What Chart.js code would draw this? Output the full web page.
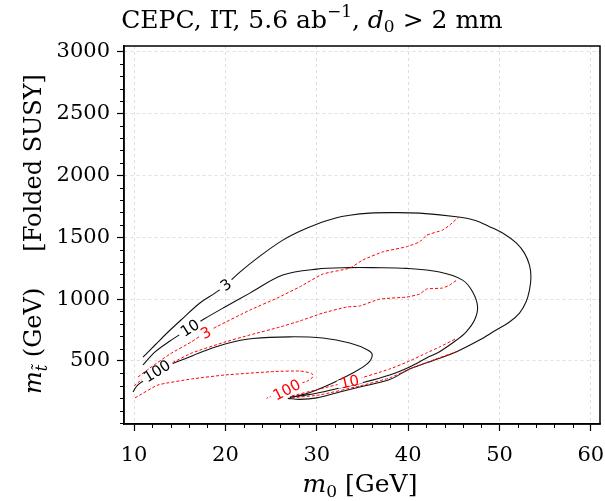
<!DOCTYPE html>
<html>
<head>
<meta charset="utf-8">
<script src="https://cdn.jsdelivr.net/npm/chart.js@4"></script>
<style>
  html, body { margin: 0; padding: 0; background: #fff; }
  #wrap { width: 605px; height: 501px; }
</style>
</head>
<body>
<div id="wrap"><canvas id="contour-chart"></canvas></div>
<script>
'use strict';

// *************** DATA (m0 [GeV] vs stop mass [GeV])

// black solid contours
let black3M = [10.98, 12.30, 13.61, 15.14, 17.21, 18.85, 20.05, 21.58, 23.77, 26.28, 28.14, 29.99, 31.97, 33.61, 35.79, 37.98, 41.26, 45.30, 47.27, 48.91, 50.55, 51.86, 52.73, 53.28, 53.44, 53.28, 52.90, 52.19, 51.09, 49.45, 47.81, 45.30, 42.90, 40.16, 37.98, 34.70, 32.51, 30.00, 28.14, 26.83];
let black3Mass = [532, 629, 726, 831, 968, 1048, 1113, 1218, 1347, 1476, 1548, 1605, 1653, 1677, 1694, 1698, 1694, 1665, 1637, 1585, 1524, 1452, 1371, 1274, 1177, 1073, 976, 887, 815, 742, 669, 575, 508, 435, 351, 290, 250, 202, 190, 198];

let black10M = [10.98, 12.30, 13.93, 16.12, 17.76, 19.95, 22.68, 26.28, 30.00, 33.61, 36.12, 39.84, 43.44, 45.96, 47.05, 47.60, 47.27, 46.36, 45.30, 43.44, 42.02, 40.16, 37.98, 34.70, 32.51, 30.33, 28.91, 27.05];
let black10Mass = [468, 573, 661, 766, 843, 936, 1048, 1194, 1242, 1254, 1254, 1248, 1218, 1153, 1059, 938, 831, 736, 669, 575, 524, 452, 387, 319, 282, 246, 226, 206];

let black100M = [9.89, 10.22, 10.55, 11.20, 12.51, 13.93, 15.79, 17.54, 20.16, 23.01, 27.05, 30.66, 33.61, 35.57, 36.07, 35.57, 33.93, 31.75, 29.56, 28.14, 27.05];
let black100Mass = [250, 290, 315, 347, 403, 468, 524, 577, 641, 681, 695, 685, 645, 589, 548, 480, 403, 323, 254, 222, 206];

// red dashed contours
let red3UpperM = [10.44, 11.75, 13.93, 16.31, 17.76, 19.04, 22.68, 25.60, 28.14, 30.66, 33.61, 35.03, 37.21, 39.84, 41.26, 42.02, 43.77, 44.54, 45.52];
let red3UpperMass = [371, 444, 556, 656, 726, 777, 911, 1006, 1099, 1202, 1250, 1315, 1381, 1423, 1462, 1516, 1557, 1597, 1661];

let red3LowerM = [27.27, 30.33, 34.70, 37.98, 40.16, 42.90, 45.30];
let red3LowerMass = [202, 226, 298, 363, 435, 512, 575];

let red10UpperM = [10.00, 10.66, 12.51, 14.15, 16.34, 19.95, 22.68, 25.96, 28.14, 30.66, 33.28, 34.70, 36.89, 39.84, 41.26, 42.02, 43.77, 44.54, 45.30];
let red10UpperMass = [298, 339, 419, 484, 565, 653, 710, 774, 823, 887, 936, 944, 1000, 1016, 1040, 1081, 1089, 1113, 1153];

let red10LowerM = [27.27, 30.33, 33.61, 37.98, 40.16, 42.02, 43.44, 45.30];
let red10LowerMass = [218, 274, 335, 435, 500, 565, 613, 683];

let red100M = [10.11, 12.62, 16.34, 19.95, 25.41, 28.14, 29.42, 29.60, 28.87, 28.14, 26.72, 24.50];
let red100Mass = [202, 306, 355, 387, 415, 419, 401, 373, 333, 320, 266, 199];

// inline contour labels
let labelTexts = ['3', '10', '100', '3', '100', '10'];
let labelM = [20.05, 16.12, 12.51, 17.87, 26.72, 33.61];
let labelMass = [1113, 766, 419, 726, 266, 331];
let labelColors = ['#000', '#000', '#000', '#ff0000', '#ff0000', '#ff0000'];

// axes
let xTicks = [10, 20, 30, 40, 50, 60];
let yTicks = [500, 1000, 1500, 2000, 2500, 3000];

// *************** HELPERS
function toPoints(xs, ys) {
  let pts = [];
  for (let i = 0; i < xs.length; i++) {
    pts.push({ x: xs[i], y: ys[i] });
  }
  return pts;
}

function lineSet(xs, ys, color, dashed) {
  return {
    data: toPoints(xs, ys),
    showLine: true,
    borderColor: color,
    borderWidth: dashed ? 1 : 1.1,
    borderDash: dashed ? [3, 2] : [],
    pointRadius: 0,
    tension: dashed ? 0.15 : 0.35,
    fill: false
  };
}

function drawRich(ctx, parts, x, y) {
  let total = 0;
  parts.forEach(p => { ctx.font = p[1]; total += ctx.measureText(p[0]).width; });
  let cx = x - total / 2;
  parts.forEach(p => {
    ctx.font = p[1];
    ctx.fillText(p[0], cx, y + (p[2] || 0));
    cx += ctx.measureText(p[0]).width;
  });
}

// angle of the contour near a label, from the nearest segment of every contour
function nearestAngle(chart, px, py) {
  let best = null;
  let bestD = Infinity;
  chart.data.datasets.forEach(ds => {
    for (let i = 0; i < ds.data.length - 1; i++) {
      let ax = chart.scales.x.getPixelForValue(ds.data[i].x);
      let ay = chart.scales.y.getPixelForValue(ds.data[i].y);
      let bx = chart.scales.x.getPixelForValue(ds.data[i + 1].x);
      let by = chart.scales.y.getPixelForValue(ds.data[i + 1].y);
      let mx = (ax + bx) / 2;
      let my = (ay + by) / 2;
      let d = (mx - px) * (mx - px) + (my - py) * (my - py);
      if (d < bestD) {
        bestD = d;
        best = Math.atan2(by - ay, bx - ax);
      }
    }
  });
  if (best > Math.PI / 2) best -= Math.PI;
  if (best < -Math.PI / 2) best += Math.PI;
  return best;
}

// *************** PLUGINS
const SERIF = '"DejaVu Serif", serif';

const frameAndMinor = {
  id: 'frameAndMinor',
  afterDraw(chart) {
    const { ctx, chartArea: a, scales: { x, y } } = chart;
    ctx.save();
    ctx.strokeStyle = '#000';
    ctx.lineWidth = 1;
    ctx.beginPath();
    for (let v = 10; v <= 60; v += 2) {
      if (v % 10 === 0) continue;
      let px = Math.round(x.getPixelForValue(v)) + 0.5;
      ctx.moveTo(px, a.bottom);
      ctx.lineTo(px, a.bottom + 4);
    }
    for (let v = 0; v <= 3000; v += 100) {
      if (v % 500 === 0 && v > 0) continue;
      let py = Math.round(y.getPixelForValue(v)) + 0.5;
      ctx.moveTo(a.left, py);
      ctx.lineTo(a.left - 4, py);
    }
    ctx.stroke();
    ctx.lineWidth = 1.5;
    ctx.strokeRect(a.left, a.top, a.right - a.left, a.bottom - a.top);
    ctx.restore();
  }
};

const textPlugin = {
  id: 'textPlugin',
  afterDraw(chart) {
    const { ctx, scales: { x, y } } = chart;
    ctx.save();
    ctx.fillStyle = '#000';
    ctx.textBaseline = 'alphabetic';

    // title
    drawRich(ctx, [
      ['CEPC, IT, 5.6 ab', '25px ' + SERIF],
      ['\u22121', '17px ' + SERIF, -11],
      [', ', '25px ' + SERIF],
      ['d', 'italic 25px ' + SERIF],
      ['0', '17px ' + SERIF, 4],
      [' > 2 mm', '25px ' + SERIF]
    ], 312, 28);

    // x label
    drawRich(ctx, [
      ['m', 'italic 25px ' + SERIF],
      ['0', '17px ' + SERIF, 5],
      [' [GeV]', '25px ' + SERIF]
    ], 360, 492);

    // y label
    ctx.save();
    ctx.translate(41, 234);
    ctx.rotate(-Math.PI / 2);
    drawRich(ctx, [
      ['m', 'italic 24px ' + SERIF],
      ['t\u0303', 'italic 16px ' + SERIF, 6],
      [' (GeV)', '24px ' + SERIF],
      ['\u2003\u2002[Folded SUSY]', '24px ' + SERIF]
    ], 0, 0);
    ctx.restore();

    // contour labels
    ctx.font = '15px "DejaVu Sans", sans-serif';
    ctx.textAlign = 'center';
    ctx.textBaseline = 'middle';
    for (let i = 0; i < labelTexts.length; i++) {
      let px = x.getPixelForValue(labelM[i]);
      let py = y.getPixelForValue(labelMass[i]);
      let ang = nearestAngle(chart, px, py);
      let w = ctx.measureText(labelTexts[i]).width;
      ctx.save();
      ctx.translate(px, py);
      ctx.rotate(ang);
      ctx.fillStyle = '#fff';
      ctx.fillRect(-w / 2 - 3, -4, w + 6, 8);
      ctx.fillStyle = labelColors[i];
      ctx.fillText(labelTexts[i], 0, 1);
      ctx.restore();
    }
    ctx.restore();
  }
};

// *************** CHART
let ctx = document.getElementById('contour-chart');

let datasets = [
  lineSet(red3UpperM, red3UpperMass, '#ff0000', true),
  lineSet(red3LowerM, red3LowerMass, '#ff0000', true),
  lineSet(red10UpperM, red10UpperMass, '#ff0000', true),
  lineSet(red10LowerM, red10LowerMass, '#ff0000', true),
  lineSet(red100M, red100Mass, '#ff0000', true),
  lineSet(black3M, black3Mass, '#111', false),
  lineSet(black10M, black10Mass, '#111', false),
  lineSet(black100M, black100Mass, '#111', false)
];

let gridStyle = {
  color: '#d6d6d6',
  lineWidth: 0.8,
  drawTicks: true,
  tickLength: 7,
  tickColor: '#000',
  tickWidth: 1.2
};

new Chart(ctx, { // eslint-disable-line
  type: 'scatter',
  data: { datasets: datasets },
  options: {
    responsive: true,
    maintainAspectRatio: false,
    animation: false,
    layout: { padding: { top: 46, right: 5, left: 0, bottom: 0 } },
    plugins: { legend: { display: false }, tooltip: { enabled: false } },
    scales: {
      x: {
        type: 'linear',
        min: 8.9,
        max: 61,
        afterBuildTicks: s => { s.ticks = xTicks.map(v => ({ value: v })); },
        afterFit: s => {
          s.height = 77;
          s.paddingLeft = 0;
          s.paddingRight = 0;
        },
        grid: gridStyle,
        border: { display: true, color: '#000', width: 1.5, dash: [3, 3] },
        ticks: {
          autoSkip: false,
          maxRotation: 0,
          padding: 12,
          color: '#000',
          font: { family: SERIF, size: 21 },
          callback: v => String(v)
        }
      },
      y: {
        type: 'linear',
        min: -9,
        max: 3044,
        afterBuildTicks: s => { s.ticks = yTicks.map(v => ({ value: v })); },
        afterFit: s => {
          s.width = 124;
          s.paddingTop = 0;
          s.paddingBottom = 0;
        },
        grid: gridStyle,
        border: { display: true, color: '#000', width: 1.5, dash: [3, 3] },
        ticks: {
          autoSkip: false,
          padding: 7,
          color: '#000',
          font: { family: SERIF, size: 21 },
          callback: v => String(v)
        }
      }
    }
  },
  plugins: [frameAndMinor, textPlugin]
});
</script>
</body>
</html>
